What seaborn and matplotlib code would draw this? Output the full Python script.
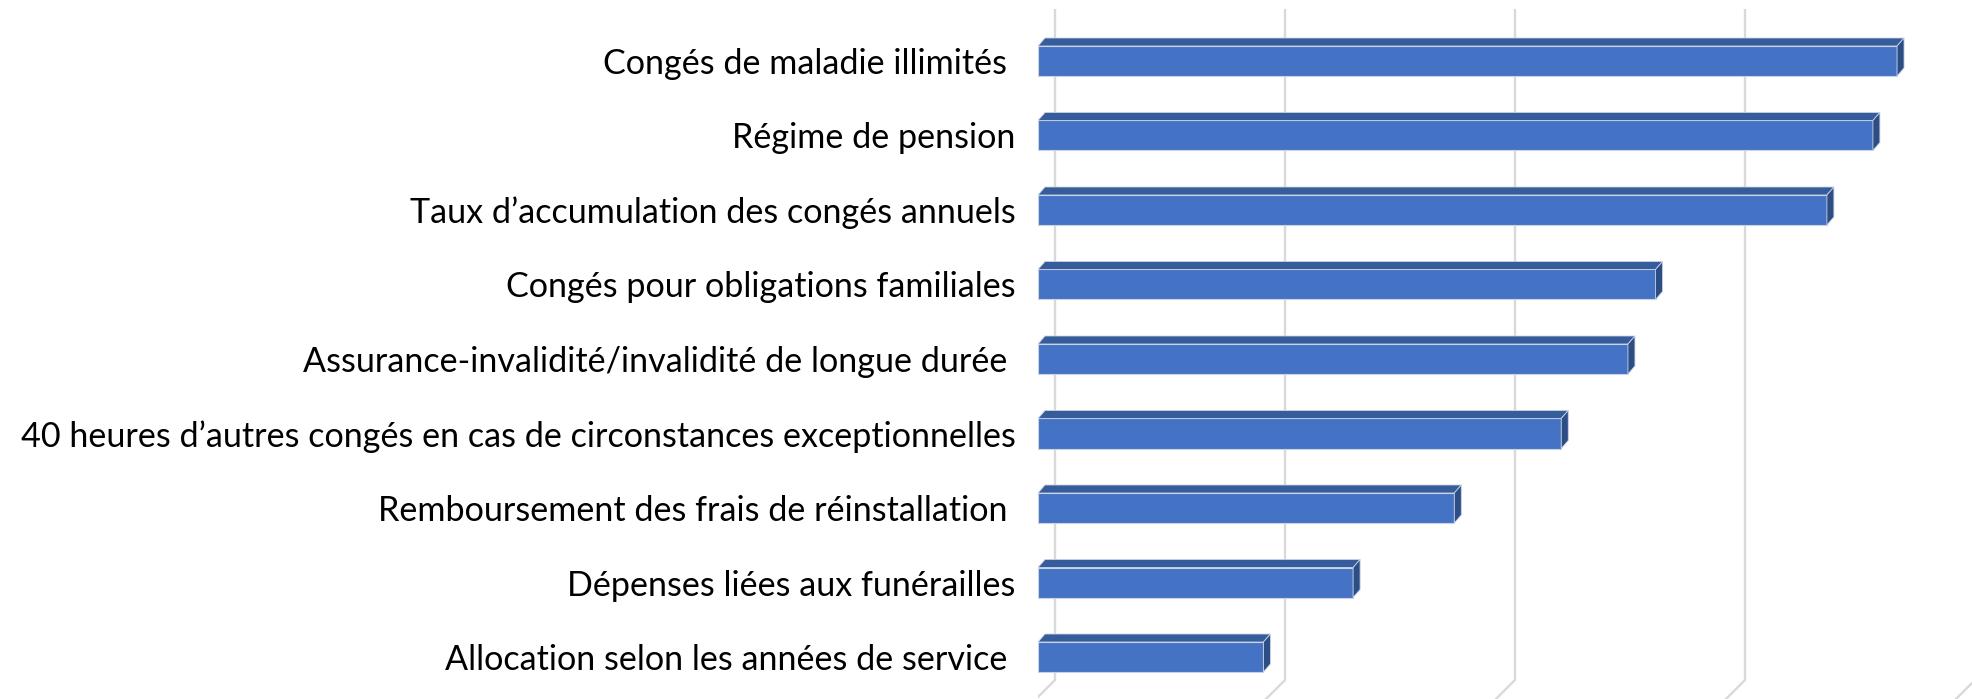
import numpy as np
import pandas as pd
import matplotlib
matplotlib.use("Agg")
import matplotlib.pyplot as plt
from matplotlib.patches import Polygon
import seaborn as sns

# data (gridline step taken as 20)
categories = [
    "Congés de maladie illimités ",
    "Régime de pension",
    "Taux d’accumulation des congés annuels",
    "Congés pour obligations familiales",
    "Assurance-invalidité/invalidité de longue durée ",
    "40 heures d’autres congés en cas de circonstances exceptionnelles",
    "Remboursement des frais de réinstallation ",
    "Dépenses liées aux funérailles",
    "Allocation selon les années de service ",
]
values = [74.7, 72.6, 68.6, 53.7, 51.3, 45.5, 36.2, 27.4, 19.6]
grid_values = [0, 20, 40, 60, 80]

front_color = "#4472C4"
top_color = "#365C9C"
side_color = "#2D4D85"
grid_color = "#D9D9D9"

W, H = 1972, 699
px_per_unit = 230 / 20.0
row_px = 74.5
x0_px = 1038
y0_px = 61

sns.set_style("white")
plt.rcParams["font.family"] = ["Lato", "DejaVu Sans"]

fig = plt.figure(figsize=(W / 100, H / 100), dpi=100)
ax = fig.add_axes([x0_px / W, 0, (W - x0_px) / W, 1])

df = pd.DataFrame({"label": categories, "value": values})
sns.barplot(data=df, x="value", y="label", orient="h", color=front_color,
            width=30 / row_px, saturation=1, ax=ax, zorder=3,
            edgecolor="#C9D3E6", linewidth=0.8)

ax.set_xlim(0, (W - x0_px) / px_per_unit)
ax.set_ylim((H - y0_px) / row_px, -y0_px / row_px)

# 3D depth of bars (in data units)
dx = 7 / px_per_unit
dy = -8 / row_px
for p in ax.patches[:len(values)]:
    x, y, w, h = p.get_x(), p.get_y(), p.get_width(), p.get_height()
    top = Polygon([(x, y), (x + w, y), (x + w + dx, y + dy), (x + dx, y + dy)],
                  closed=True, facecolor=top_color, edgecolor="#C9D3E6",
                  linewidth=0.6, zorder=4)
    side = Polygon([(x + w, y), (x + w, y + h), (x + w + dx, y + h + dy), (x + w + dx, y + dy)],
                   closed=True, facecolor=side_color, edgecolor="#C9D3E6",
                   linewidth=0.6, zorder=4)
    ax.add_patch(top)
    ax.add_patch(side)

# back-wall gridlines with floor slant
gx = 17 / px_per_unit
g_top = (9 - y0_px) / row_px
g_bot = (680 - y0_px) / row_px
for g in grid_values:
    xb = g + gx
    ax.plot([xb, xb], [g_top, g_bot], color=grid_color, lw=1.7, zorder=1,
            solid_capstyle="butt")
    ax.plot([xb, xb - 30 / px_per_unit], [g_bot, g_bot + 30 / row_px],
            color=grid_color, lw=1.7, zorder=1)

for s in ax.spines.values():
    s.set_visible(False)
ax.set_xticks([])
ax.set_xlabel("")
ax.set_ylabel("")
ax.tick_params(axis="y", length=0, pad=16, labelsize=24.6, labelcolor="#000000")

fig.savefig("out.png", dpi=100)
